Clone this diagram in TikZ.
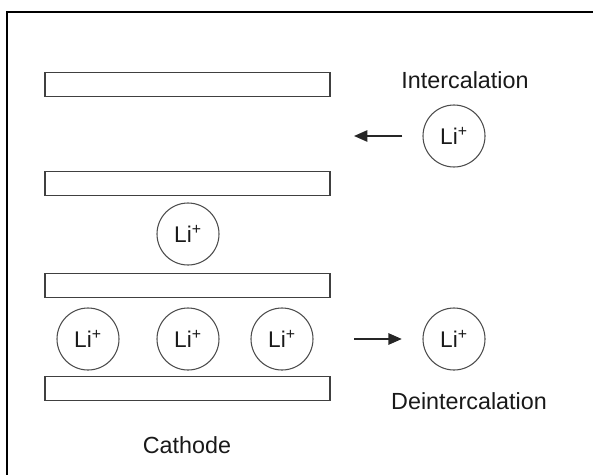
\documentclass[tikz,border=0pt]{standalone}
\usepackage{fontspec}
\setmainfont{Liberation Sans}
\usetikzlibrary{arrows.meta}
\tikzstyle{layer} = [rectangle, draw=black!75, line width=0.9pt, minimum width=213.75pt, minimum height=18.5pt, inner sep=0pt]
\tikzstyle{ion} = [circle, text centered, draw=black!70, line width=0.8pt, minimum size=46.5pt, inner sep=0pt, font=\fontsize{17}{20}\selectfont, text=black!90]
\tikzstyle{caption} = [text centered, font=\fontsize{17.5}{20}\selectfont, text=black!90]
\tikzstyle{arrow} = [line width=1.2pt, black!85, -{Stealth[length=10pt,width=8.5pt,inset=0pt]}]

\begin{document}
\begin{tikzpicture}[x=0.75pt,y=-0.75pt]

\useasboundingbox (0,0) rectangle (593,475);
\clip (0,0) rectangle (593,475);
\draw [line width=1.8pt] (7,490) |- (610,12);

% cathode layers
\node (layer1) [layer] at (187.5,84.5) {};
\node (layer2) [layer] at (187.5,183.5) {};
\node (layer3) [layer] at (187.5,285.5) {};
\node (layer4) [layer] at (187.5,388.5) {};

% ions between the layers
\node (li1) [ion] at (188,234) {Li\textsuperscript{+}};
\node (li2) [ion] at (88,339) {Li\textsuperscript{+}};
\node (li3) [ion] at (188,339) {Li\textsuperscript{+}};
\node (li4) [ion] at (282,339) {Li\textsuperscript{+}};

% ions going in and out
\node (inli) [ion] at (454,136) {Li\textsuperscript{+}};
\node (deli) [ion] at (454,339) {Li\textsuperscript{+}};
\coordinate (inend) at (354,136);
\coordinate (destart) at (354,339);

\node (intext) [caption] at (465,80) {Intercalation};
\node (detext) [caption] at (469,401) {Deintercalation};
\node (cathode) [caption] at (187,445) {Cathode};

\draw [arrow, shorten <=15pt] (inli.west) -- (inend);
\draw [arrow, shorten >=15.5pt] (destart) -- (deli.west);

\end{tikzpicture}
\end{document}
